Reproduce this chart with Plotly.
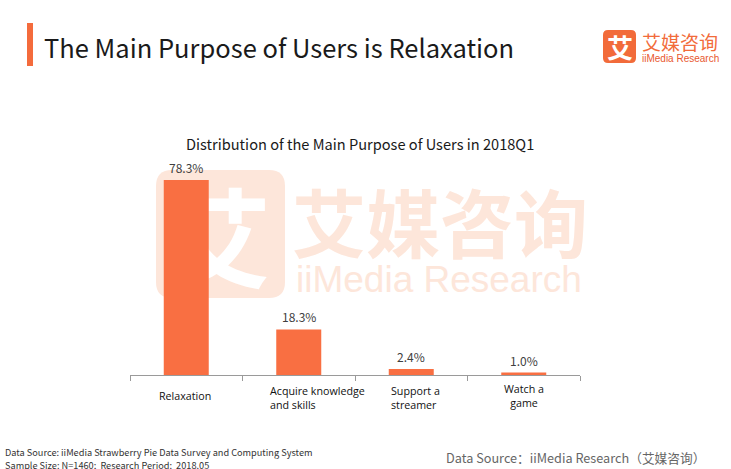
import plotly.graph_objects as go

# ---- data ----
categories = ["Relaxation", "Acquire knowledge and skills", "Support a streamer", "Watch a game"]
values = [78.3, 18.3, 2.4, 1.0]
tick_labels = ["Relaxation", "Acquire knowledge<br>and skills", "Support a<br>streamer", "Watch a<br>game"]

W_FIG, H_FIG = 731, 469
L, R_EDGE, B, T = 130, 580, 375, 155
PW, PH = R_EDGE - L, B - T
YMAX = PH / 2.49

def px(x):
    return (x - L) / PW

def py(y):
    return (B - y) / PH

ORANGE = "#F96F42"
WM = "#FDE6DA"

fig = go.Figure()

# watermark glyph (main, lower subplot)
fig.add_trace(go.Scatter(
    x=[px(217)], y=[py(253)], mode="text", text=["艾"],
    textfont=dict(family="Noto Sans CJK SC", size=108, color="white", weight="bold"),
    textposition="middle center", hoverinfo="skip", showlegend=False, cliponaxis=False,
    xaxis="x", yaxis="y"))

# bars (overlay subplot, drawn above)
fig.add_trace(go.Bar(
    x=categories, y=values, marker=dict(color=ORANGE, line=dict(width=0)),
    xaxis="x2", yaxis="y2", showlegend=False, hoverinfo="skip"))

annotations = []
for c, v in zip(categories, values):
    annotations.append(dict(x=c, y=v, xref="x2", yref="y2", text=f"{v:.1f}%",
                            showarrow=False, yanchor="bottom", yshift=2,
                            font=dict(family="Noto Sans CJK SC", size=12, color="#404040")))

label_cfg = [  # (xanchor, xshift, align, center_y)
    ("center", -1, "center", 396),
    ("left", -31, "left", 398),
    ("left", -22, "left", 397.5),
    ("center", 0, "center", 395.5),
]
for c, t, (xa, xs, al, cy) in zip(categories, tick_labels, label_cfg):
    annotations.append(dict(x=c, y=py(cy), xref="x2", yref="paper", text=t, showarrow=False,
                            xanchor=xa, xshift=xs, align=al, yanchor="middle",
                            font=dict(family="Open Sans", size=10.7, color="#111111")))

def pann(text, x, y, size, color, family, xanchor="center", yanchor="middle", **kw):
    annotations.append(dict(x=px(x), y=py(y), xref="paper", yref="paper", text=text,
                            showarrow=False, xanchor=xanchor, yanchor=yanchor,
                            font=dict(family=family, size=size, color=color, **kw)))

# titles
pann("The Main Purpose of Users is Relaxation", 42, 46, 25.5, "#1a1a1a", "Noto Sans CJK SC", xanchor="left")
pann("Distribution of the Main Purpose of Users in 2018Q1", 360, 143, 14.6, "#1a1a1a", "Noto Sans CJK SC")

# big watermark text
pann("艾媒咨询", 440, 219, 74, WM, "Noto Sans CJK SC", weight="bold")
pann("iiMedia Research", 439, 279, 37, WM, "Liberation Sans")

# top-right logo
pann("艾", 619.5, 46, 26, "white", "Noto Sans CJK SC", weight="bold")
pann("艾媒咨询", 680, 41, 19, "#F26B3A", "Noto Sans CJK SC")
pann("iiMedia Research", 680, 58.5, 10, "#E8582F", "Liberation Sans")

# footers
pann("Data Source: iiMedia Strawberry Pie Data Survey and Computing System", 3, 452, 9.2, "#333333",
     "Noto Sans CJK SC", xanchor="left")
pann("Sample Size: N=1460;  Research Period:  2018.05", 3, 465, 9.2, "#333333",
     "Noto Sans CJK SC", xanchor="left")
pann("Data Source：iiMedia Research（艾媒咨询）", 444, 457, 12.7, "#666666",
     "Noto Sans CJK SC", xanchor="left")

def rrect(x0, y0, x1, y1, r):
    X0, X1 = px(x0), px(x1)
    Y0, Y1 = py(y0), py(y1)
    rx, ry = r / PW, r / PH
    return (f"M {X0+rx},{Y0} L {X1-rx},{Y0} Q {X1},{Y0} {X1},{Y0-ry} "
            f"L {X1},{Y1+ry} Q {X1},{Y1} {X1-rx},{Y1} L {X0+rx},{Y1} "
            f"Q {X0},{Y1} {X0},{Y1+ry} L {X0},{Y0-ry} Q {X0},{Y0} {X0+rx},{Y0} Z")

shapes = [
    dict(type="rect", xref="paper", yref="paper", x0=px(27), x1=px(33), y0=py(23), y1=py(66),
         fillcolor="#F46B3C", line=dict(width=0), layer="above"),
    dict(type="path", xref="paper", yref="paper", path=rrect(156, 170, 285, 298, 16),
         fillcolor=WM, line=dict(width=0), layer="below"),
    dict(type="path", xref="paper", yref="paper", path=rrect(603, 30, 636, 63, 5),
         fillcolor="#F26B3A", line=dict(width=0), layer="above"),
]

fig.update_layout(
    width=W_FIG, height=H_FIG,
    margin=dict(l=L, r=W_FIG - R_EDGE, t=T, b=H_FIG - B, pad=0),
    paper_bgcolor="white", plot_bgcolor="rgba(0,0,0,0)",
    bargap=0.6, showlegend=False,
    xaxis=dict(range=[0, 1], visible=False, fixedrange=True),
    yaxis=dict(range=[0, 1], visible=False, fixedrange=True),
    xaxis2=dict(overlaying="x", type="category", range=[-0.5, 3.5], showticklabels=False,
                ticks="outside", tickson="boundaries", ticklen=5, tickcolor="#9a9a9a",
                showline=True, linecolor="#9a9a9a", linewidth=1, showgrid=False, zeroline=False),
    yaxis2=dict(overlaying="y", range=[0, YMAX], visible=False, showgrid=False, zeroline=False),
    annotations=annotations, shapes=shapes,
)

fig.write_html("out.html")
